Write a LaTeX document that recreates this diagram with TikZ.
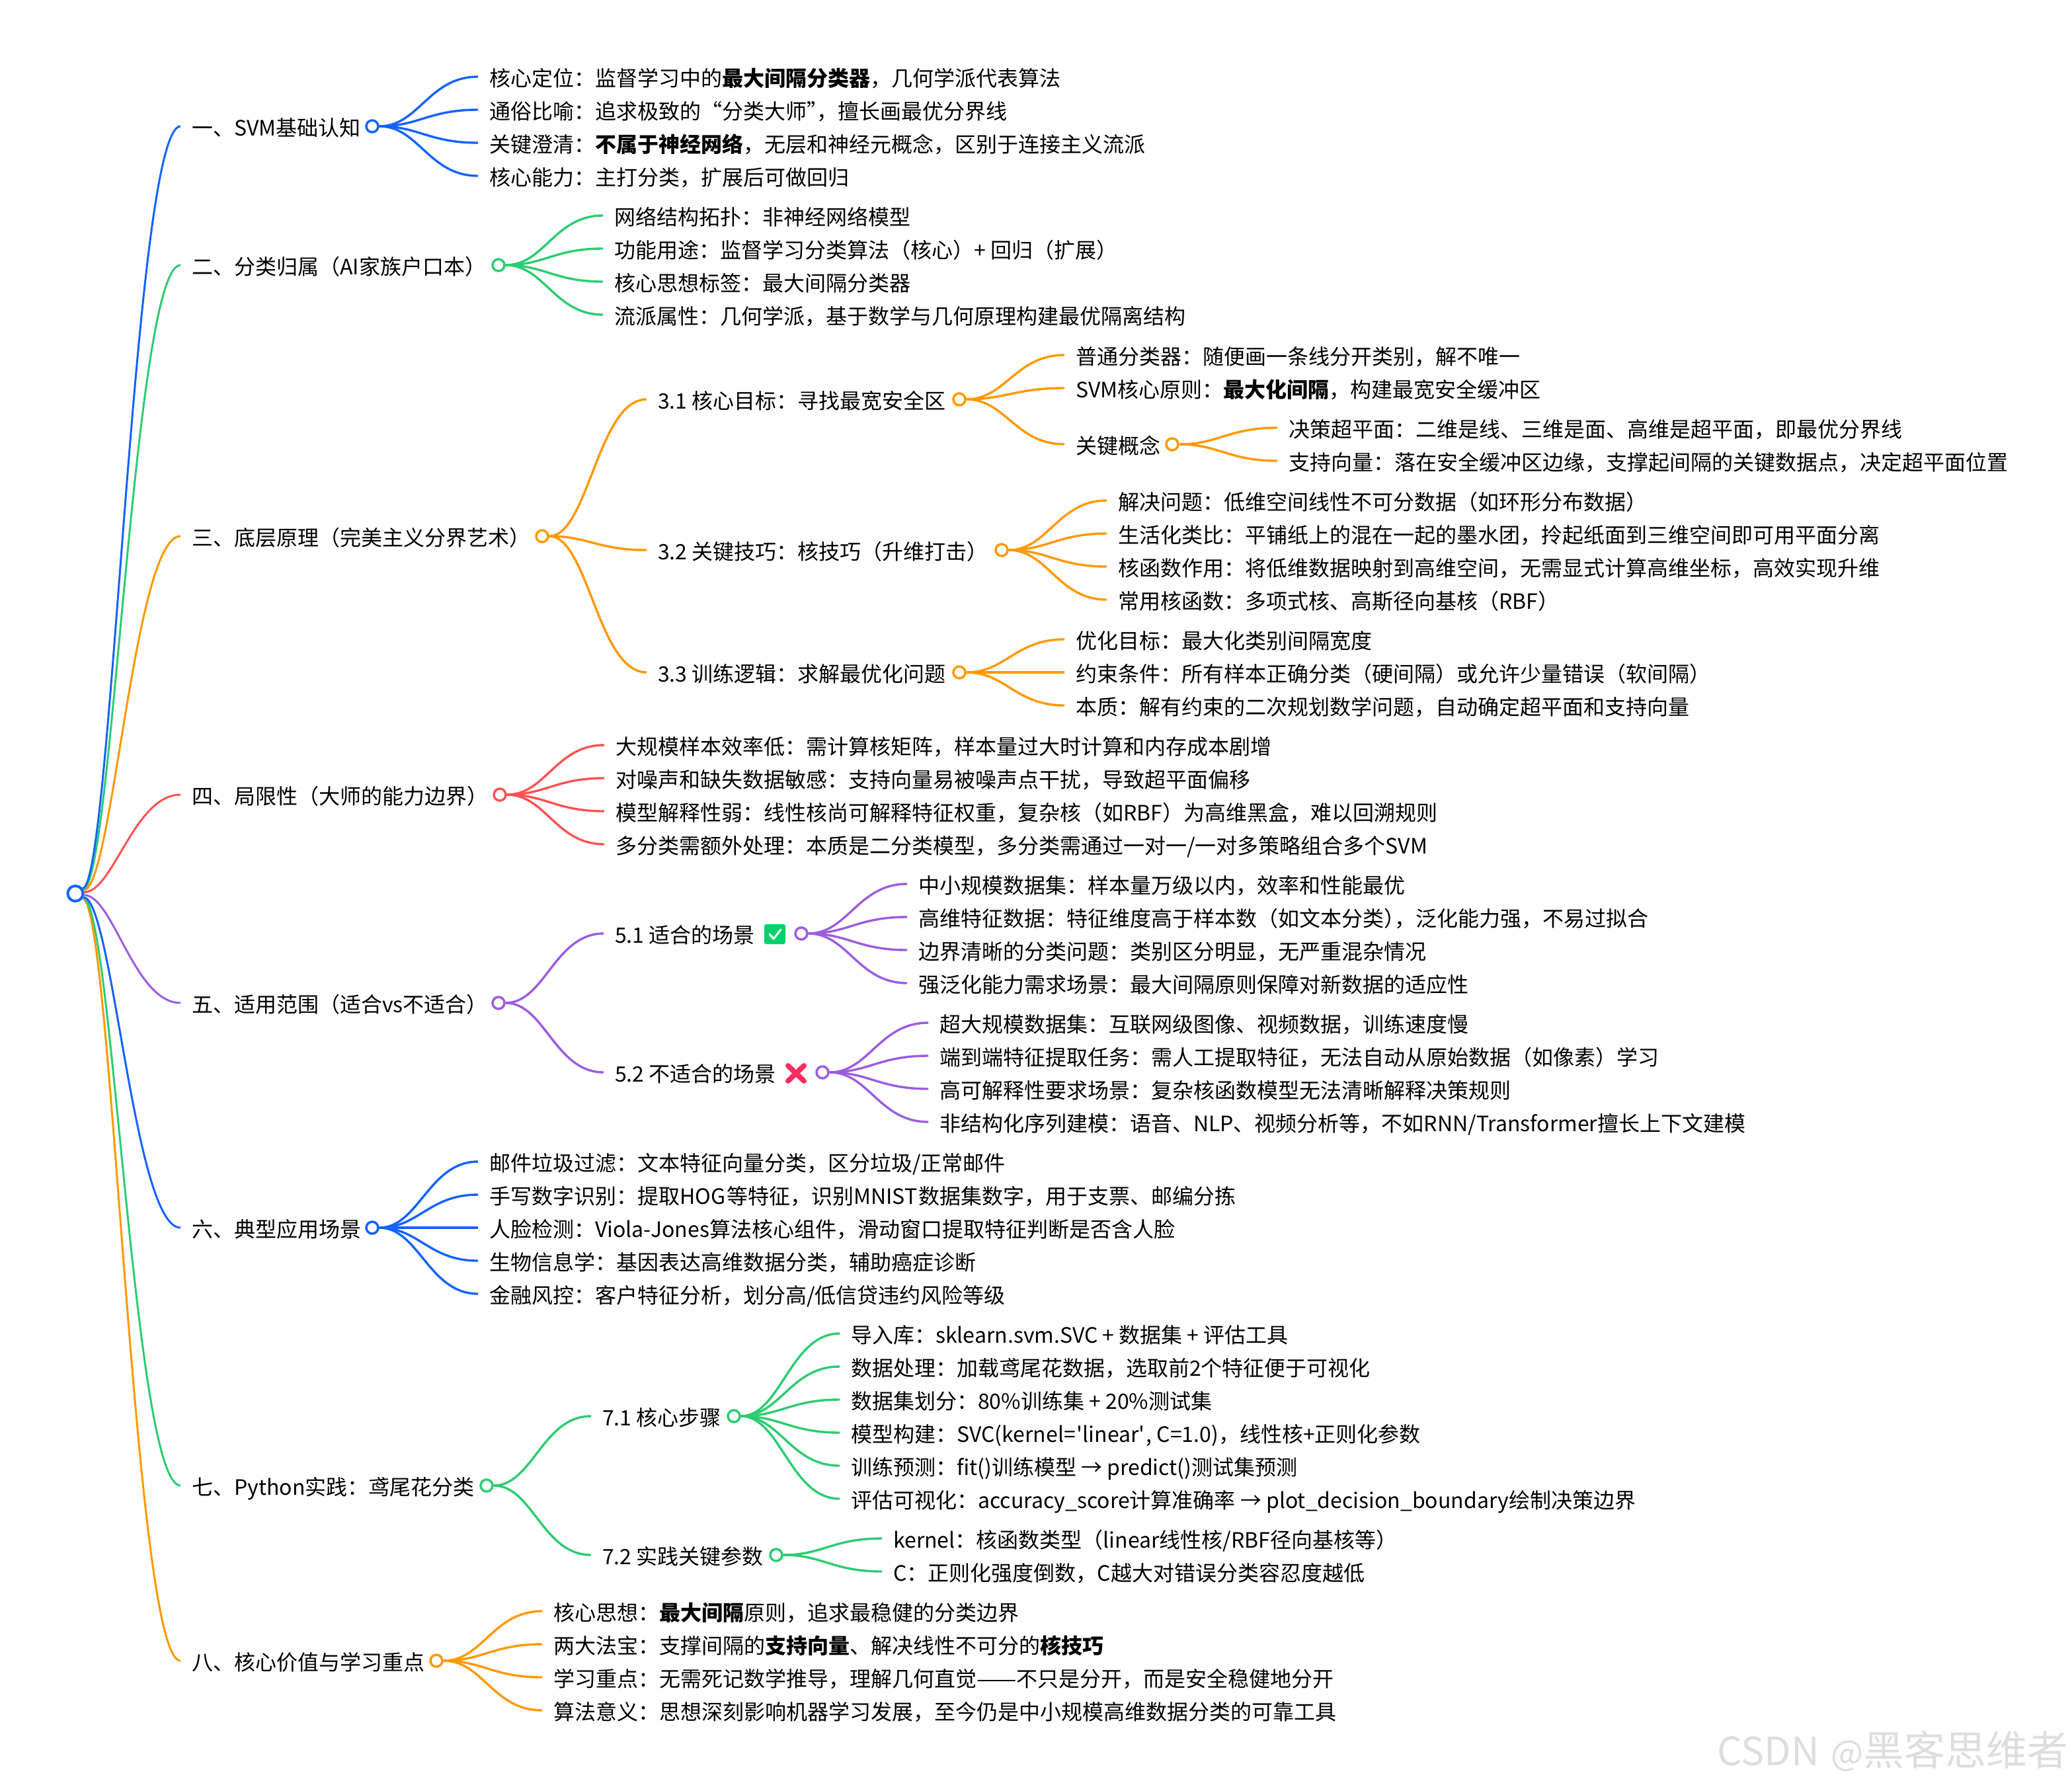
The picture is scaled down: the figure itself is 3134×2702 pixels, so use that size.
\documentclass[tikz,border=0pt]{standalone}
\usepackage{fontspec}
\usepackage{graphicx}
\usetikzlibrary{calc}
\newfontfamily\cjk{Noto Sans CJK SC}
\definecolor{cblue}{HTML}{1463FF}
\definecolor{cgreen}{HTML}{2ECC71}
\definecolor{corange}{HTML}{FF9900}
\definecolor{cred}{HTML}{FF5252}
\definecolor{cpurple}{HTML}{9B5DE0}
\definecolor{okgreen}{HTML}{00D26A}
\definecolor{nored}{HTML}{F92F60}
\definecolor{wmlight}{HTML}{DEDEDE}
\tikzset{
  txt/.style={anchor=west,inner xsep=17pt,inner ysep=0pt,text height=35pt,text depth=6pt,text=black,font=\cjk\fontsize{32}{38}\selectfont},
  hub/.style={circle,draw=#1,fill=white,line width=3.5pt,minimum size=18pt,inner sep=0pt},
  rootdot/.style={circle,draw=cblue,fill=white,line width=4pt,minimum size=23pt,inner sep=0pt},
  linkc/.style={draw=#1,line width=3.4pt},
  rootlink/.style={draw=#1,line width=3pt},
  wmark/.style={anchor=base west,inner sep=0pt,font=\cjk\fontsize{62}{70}\selectfont}
}
% inner link: hub -> text node
\newcommand{\lnk}[3]{\draw[linkc=#1] (#2.east) .. controls ($(#2.east)!0.4!(#2.east -| #3.west)$) and ($(#3.west)!0.5!(#3.west -| #2.east)$) .. (#3.west);}
% root link
\newcommand{\rlnk}[3]{\draw[rootlink=#1] (root.#2) .. controls ($(root.#2)!0.3!(root.#2 -| #3.west)$) and ($(#3.west)!0.48!(#3.west -| root.#2)$) .. (#3.west);}
\newcommand{\tn}[4]{\node[txt] (#1) at (#2,#3) {#4};}
\newcommand{\hubn}[4]{\node[hub=#1] (#2) at (#3,#4) {};}
\newcommand{\wmtext}{{\fontsize{59}{70}\selectfont CSDN\hspace{18pt}\fontsize{52}{70}\selectfont @}黑客思维者}
\begin{document}
\begin{tikzpicture}[x=1pt,y=-1pt]
\useasboundingbox (0,0) rectangle (3134,2702);
\fill[white] (0,0) rectangle (3134,2702);
\node[rootdot] (root) at (114,1351.5) {};

% --- Group 1
\tn{a}{273}{191}{一、SVM基础认知}
\hubn{cblue}{ah}{563}{191}
\tn{a1}{723}{116}{核心定位：监督学习中的\textbf{最大间隔分类器}，几何学派代表算法}
\tn{a2}{723}{166}{通俗比喻：追求极致的“分类大师”\hspace{-17pt}，擅长画最优分界线}
\tn{a3}{723}{216}{关键澄清：\textbf{不属于神经网络}，无层和神经元概念，区别于连接主义流派}
\tn{a4}{723}{266}{核心能力：主打分类，扩展后可做回归}
\lnk{cblue}{ah}{a1}\lnk{cblue}{ah}{a2}\lnk{cblue}{ah}{a3}\lnk{cblue}{ah}{a4}

% --- Group 2
\tn{b}{273}{401}{二、分类归属（AI家族户口本）}
\hubn{cgreen}{bh}{754}{401}
\tn{b1}{912}{326}{网络结构拓扑：非神经网络模型}
\tn{b2}{912}{376}{功能用途：监督学习分类算法（核心）+ 回归（扩展）}
\tn{b3}{912}{426}{核心思想标签：最大间隔分类器}
\tn{b4}{912}{476}{流派属性：几何学派，基于数学与几何原理构建最优隔离结构}
\lnk{cgreen}{bh}{b1}\lnk{cgreen}{bh}{b2}\lnk{cgreen}{bh}{b3}\lnk{cgreen}{bh}{b4}

% --- Group 3
\tn{c}{273}{811}{三、底层原理（完美主义分界艺术）}
\hubn{corange}{ch}{820}{811}
\tn{c1}{978}{604}{3.1 核心目标：寻找最宽安全区}
\hubn{corange}{c1h}{1451}{604}
\tn{c11}{1610}{537}{普通分类器：随便画一条线分开类别，解不唯一}
\tn{c12}{1610}{587}{SVM核心原则：\textbf{最大化间隔}，构建最宽安全缓冲区}
\tn{c13}{1610}{672}{关键概念}
\hubn{corange}{c13h}{1773}{672}
\tn{c131}{1932}{647}{决策超平面：二维是线、三维是面、高维是超平面，即最优分界线}
\tn{c132}{1932}{697}{支持向量：落在安全缓冲区边缘，支撑起间隔的关键数据点，决定超平面位置}
\tn{c2}{978}{832}{3.2 关键技巧：核技巧（升维打击）}
\hubn{corange}{c2h}{1515}{832}
\tn{c21}{1674}{757}{解决问题：低维空间线性不可分数据（如环形分布数据）}
\tn{c22}{1674}{807}{生活化类比：平铺纸上的混在一起的墨水团，拎起纸面到三维空间即可用平面分离}
\tn{c23}{1674}{857}{核函数作用：将低维数据映射到高维空间，无需显式计算高维坐标，高效实现升维}
\tn{c24}{1674}{907}{常用核函数：多项式核、高斯径向基核（RBF）}
\tn{c3}{978}{1017}{3.3 训练逻辑：求解最优化问题}
\hubn{corange}{c3h}{1451}{1017}
\tn{c31}{1610}{967}{优化目标：最大化类别间隔宽度}
\tn{c32}{1610}{1017}{约束条件：所有样本正确分类（硬间隔）或允许少量错误（软间隔）}
\tn{c33}{1610}{1067}{本质：解有约束的二次规划数学问题，自动确定超平面和支持向量}
\lnk{corange}{ch}{c1}\lnk{corange}{ch}{c2}\lnk{corange}{ch}{c3}
\lnk{corange}{c1h}{c11}\lnk{corange}{c1h}{c12}\lnk{corange}{c1h}{c13}
\lnk{corange}{c13h}{c131}\lnk{corange}{c13h}{c132}
\lnk{corange}{c2h}{c21}\lnk{corange}{c2h}{c22}\lnk{corange}{c2h}{c23}\lnk{corange}{c2h}{c24}
\lnk{corange}{c3h}{c31}\lnk{corange}{c3h}{c32}\lnk{corange}{c3h}{c33}

% --- Group 4
\tn{d}{273}{1202}{四、局限性（大师的能力边界）}
\hubn{cred}{dh}{756}{1202}
\tn{d1}{914}{1127}{大规模样本效率低：需计算核矩阵，样本量过大时计算和内存成本剧增}
\tn{d2}{914}{1177}{对噪声和缺失数据敏感：支持向量易被噪声点干扰，导致超平面偏移}
\tn{d3}{914}{1227}{模型解释性弱：线性核尚可解释特征权重，复杂核（如RBF）为高维黑盒，难以回溯规则}
\tn{d4}{914}{1277}{多分类需额外处理：本质是二分类模型，多分类需通过一对一/一对多策略组合多个SVM}
\lnk{cred}{dh}{d1}\lnk{cred}{dh}{d2}\lnk{cred}{dh}{d3}\lnk{cred}{dh}{d4}

% --- Group 5
\tn{e}{273}{1517}{五、适用范围（适合vs不适合）}
\hubn{cpurple}{eh}{754}{1517}
\tn{e1}{913}{1412}{5.1 适合的场景}
\hubn{cpurple}{e1h}{1212}{1412}
\fill[rounded corners=3pt,fill=okgreen] (1156,1398) rectangle (1188,1428);
\draw[white,line width=3pt,line cap=round,line join=round] (1164,1413) -- (1170,1420) -- (1181,1406);
\tn{e11}{1372}{1337}{中小规模数据集：样本量万级以内，效率和性能最优}
\tn{e12}{1372}{1387}{高维特征数据：特征维度高于样本数（如文本分类）\hspace{-16pt}，泛化能力强，不易过拟合}
\tn{e13}{1372}{1437}{边界清晰的分类问题：类别区分明显，无严重混杂情况}
\tn{e14}{1372}{1487}{强泛化能力需求场景：最大间隔原则保障对新数据的适应性}
\tn{e2}{913}{1622}{5.2 不适合的场景}
\hubn{cpurple}{e2h}{1244}{1622}
\draw[nored,line width=8pt,line cap=round] (1192,1612) -- (1216,1635) (1216,1612) -- (1192,1635);
\tn{e21}{1404}{1547}{超大规模数据集：互联网级图像、视频数据，训练速度慢}
\tn{e22}{1404}{1597}{端到端特征提取任务：需人工提取特征，无法自动从原始数据（如像素）学习}
\tn{e23}{1404}{1647}{高可解释性要求场景：复杂核函数模型无法清晰解释决策规则}
\tn{e24}{1404}{1697}{非结构化序列建模：语音、NLP、视频分析等，不如RNN/Transformer擅长上下文建模}
\lnk{cpurple}{eh}{e1}\lnk{cpurple}{eh}{e2}
\lnk{cpurple}{e1h}{e11}\lnk{cpurple}{e1h}{e12}\lnk{cpurple}{e1h}{e13}\lnk{cpurple}{e1h}{e14}
\lnk{cpurple}{e2h}{e21}\lnk{cpurple}{e2h}{e22}\lnk{cpurple}{e2h}{e23}\lnk{cpurple}{e2h}{e24}

% --- Group 6
\tn{f}{273}{1857}{六、典型应用场景}
\hubn{cblue}{fh}{563}{1857}
\tn{f1}{723}{1757}{邮件垃圾过滤：文本特征向量分类，区分垃圾/正常邮件}
\tn{f2}{723}{1807}{手写数字识别：提取HOG\hspace{2pt}等特征，识别MNIST\hspace{2pt}数据集数字，用于支票、邮编分拣}
\tn{f3}{723}{1857}{人脸检测：Viola-Jones算法核心组件，滑动窗口提取特征判断是否含人脸}
\tn{f4}{723}{1907}{生物信息学：基因表达高维数据分类，辅助癌症诊断}
\tn{f5}{723}{1957}{金融风控：客户特征分析，划分高/低信贷违约风险等级}
\lnk{cblue}{fh}{f1}\lnk{cblue}{fh}{f2}\lnk{cblue}{fh}{f3}\lnk{cblue}{fh}{f4}\lnk{cblue}{fh}{f5}

% --- Group 7
\tn{g}{273}{2247}{七、Python实践：鸢尾花分类}
\hubn{cgreen}{gh}{736}{2247}
\tn{g1}{894}{2142}{7.1 核心步骤}
\hubn{cgreen}{g1h}{1110}{2142}
\tn{g11}{1270}{2017}{导入库：sklearn.svm.SVC + 数据集 + 评估工具}
\tn{g12}{1270}{2067}{数据处理：加载鸢尾花数据，选取前2个特征便于可视化}
\tn{g13}{1270}{2117}{数据集划分：80\%训练集 + 20\%测试集}
\tn{g14}{1270}{2167}{模型构建：SVC(kernel=\hspace{2pt}'linear'\hspace{2pt}, C=1.0)，线性核+正则化参数}
\tn{g15}{1270}{2217}{训练预测：fit()训练模型 → predict()测试集预测}
\tn{g16}{1270}{2267}{评估可视化：accuracy\_score计算准确率 → plot\_decision\_boundary绘制决策边界}
\tn{g2}{894}{2352}{7.2 实践关键参数}
\hubn{cgreen}{g2h}{1174}{2352}
\tn{g21}{1334}{2327}{kernel：核函数类型（linear线性核/RBF径向基核等）}
\tn{g22}{1334}{2377}{C：正则化强度倒数，C越大对错误分类容忍度越低}
\lnk{cgreen}{gh}{g1}\lnk{cgreen}{gh}{g2}
\lnk{cgreen}{g1h}{g11}\lnk{cgreen}{g1h}{g12}\lnk{cgreen}{g1h}{g13}\lnk{cgreen}{g1h}{g14}\lnk{cgreen}{g1h}{g15}\lnk{cgreen}{g1h}{g16}
\lnk{cgreen}{g2h}{g21}\lnk{cgreen}{g2h}{g22}

% --- Group 8
\tn{h}{273}{2512}{八、核心价值与学习重点}
\hubn{corange}{hh}{660}{2512}
\tn{h1}{820}{2437}{核心思想：\textbf{最大间隔}原则，追求最稳健的分类边界}
\tn{h2}{820}{2487}{两大法宝：支撑间隔的\textbf{支持向量}、解决线性不可分的\textbf{核技巧}}
\tn{h3}{820}{2537}{学习重点：无需死记数学推导，理解几何直觉\scalebox{1.125}[1]{——}不只是分开，而是安全稳健地分开}
\tn{h4}{820}{2587}{算法意义：思想深刻影响机器学习发展，至今仍是中小规模高维数据分类的可靠工具}
\lnk{corange}{hh}{h1}\lnk{corange}{hh}{h2}\lnk{corange}{hh}{h3}\lnk{corange}{hh}{h4}

% --- Root links
\rlnk{corange}{-35}{h}
\rlnk{cgreen}{-30}{g}
\rlnk{cblue}{-25}{f}
\rlnk{cpurple}{-10}{e}
\rlnk{cred}{8}{d}
\rlnk{corange}{22}{c}
\rlnk{cgreen}{30}{b}
\rlnk{cblue}{36}{a}

% --- Watermark
\node[wmark,text=wmlight] (wm) at (2597,2670) {\wmtext};
\end{tikzpicture}
\end{document}
